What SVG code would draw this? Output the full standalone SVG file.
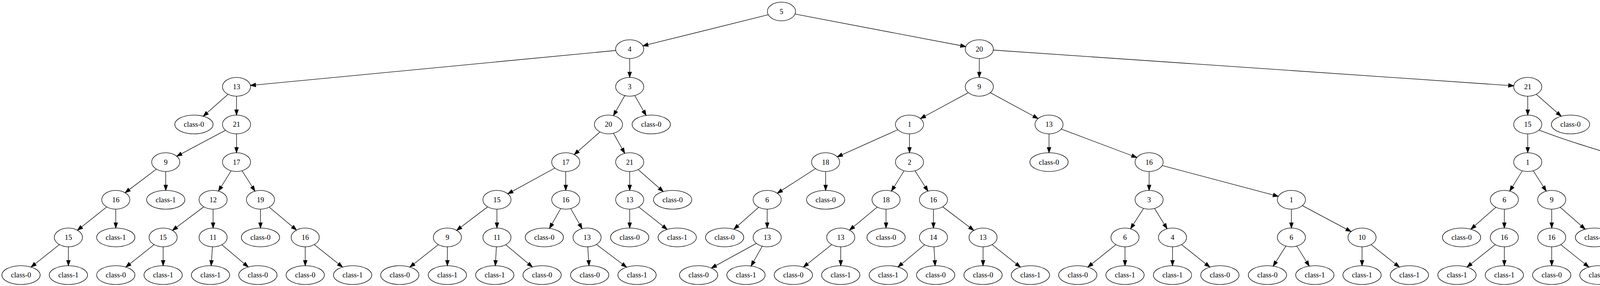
<svg xmlns="http://www.w3.org/2000/svg" width="4391" height="731" viewBox="0 0 4391 731">
<style>
.node ellipse{fill:none;stroke:#000;stroke-width:1.33}
.node text{font-family:"Liberation Serif","Times New Roman",serif;font-size:18.67px;text-anchor:middle;fill:#000}
#edges path{fill:none;stroke:#000;stroke-width:1.33;marker-end:url(#arr)}
</style>
<defs>
<marker id="arr" markerUnits="userSpaceOnUse" viewBox="0 0 14 10" markerWidth="14" markerHeight="10" refX="13.33" refY="5" orient="auto" overflow="visible">
<path d="M0,0.33 L13.33,5 L0,9.67 z" fill="#000" stroke="#000" stroke-width="1.33"/>
</marker>
</defs>
<rect width="4391" height="731" fill="#fff"/>
<g id="edges">
<path d="M1966.8,37.7 L1645.7,117.2"/>
<path d="M2035.1,35.9 L2472.4,119.0"/>
<path d="M1576.4,129.0 L641.1,218.4"/>
<path d="M1612,149.6 L1612,197.8"/>
<path d="M2507,149.6 L2507,197.8"/>
<path d="M2542.8,128.0 L3875.2,219.3"/>
<path d="M583.8,241.0 L520.3,297.1"/>
<path d="M605.5,245.8 L605.5,294.1"/>
<path d="M577.3,333.1 L452.5,399.3"/>
<path d="M605.5,342.1 L605.5,390.3"/>
<path d="M400.4,432.3 L320.3,492.6"/>
<path d="M424.3,438.3 L424.3,486.6"/>
<path d="M591.7,436.5 L559.3,488.4"/>
<path d="M619.6,436.4 L652.7,488.5"/>
<path d="M273.2,528.9 L198.3,588.4"/>
<path d="M296.4,534.6 L296.4,582.8"/>
<path d="M521.6,528.6 L441.5,588.8"/>
<path d="M545.5,534.6 L545.5,582.8"/>
<path d="M666.8,534.6 L666.8,582.8"/>
<path d="M689.2,529.4 L759.0,588.0"/>
<path d="M151.9,625.2 L79.5,682.7"/>
<path d="M175.1,630.8 L175.1,679.1"/>
<path d="M394.4,625.2 L322.1,682.7"/>
<path d="M417.6,630.8 L417.6,679.1"/>
<path d="M543.9,630.8 L540.5,679.1"/>
<path d="M567.9,625.6 L635.5,682.4"/>
<path d="M781.4,630.8 L781.4,679.1"/>
<path d="M804.6,625.2 L877.0,682.7"/>
<path d="M1599.3,244.3 L1570.4,295.6"/>
<path d="M1624.9,244.2 L1654.0,295.0"/>
<path d="M1536.0,337.2 L1470.0,395.2"/>
<path d="M1570.4,340.6 L1599.3,391.8"/>
<path d="M1420.5,429.5 L1300.0,495.4"/>
<path d="M1448.3,438.3 L1448.3,486.6"/>
<path d="M1612,438.3 L1612,486.6"/>
<path d="M1633.8,433.4 L1698.0,489.7"/>
<path d="M1248.4,528.6 L1169.1,588.8"/>
<path d="M1272.2,534.6 L1272.2,582.8"/>
<path d="M1435.5,533.0 L1406.7,583.7"/>
<path d="M1461.0,533.0 L1490.2,584.4"/>
<path d="M1612,534.6 L1612,582.8"/>
<path d="M1635.2,528.9 L1707.9,586.4"/>
<path d="M1122.1,625.2 L1049.3,682.7"/>
<path d="M1145.3,630.8 L1145.3,679.1"/>
<path d="M1270.8,630.8 L1268.0,679.1"/>
<path d="M1294.7,625.5 L1363.0,682.4"/>
<path d="M1504.6,630.8 L1507.9,679.1"/>
<path d="M1526.8,624.8 L1604.1,683.0"/>
<path d="M2479.0,236.9 L2356.3,303.0"/>
<path d="M2535.0,236.9 L2657.5,303.0"/>
<path d="M2298.4,331.5 L2143.5,400.9"/>
<path d="M2328.3,342.1 L2328.3,390.3"/>
<path d="M2685.5,342.1 L2685.5,390.3"/>
<path d="M2716.9,329.9 L2910.3,402.5"/>
<path d="M2087.7,431.0 L1989.9,493.9"/>
<path d="M2113.6,438.3 L2113.6,486.6"/>
<path d="M2314.5,436.5 L2282.1,488.4"/>
<path d="M2342.4,436.4 L2375.5,488.5"/>
<path d="M2941.7,438.3 L2941.7,486.6"/>
<path d="M2975.2,423.1 L3272.5,501.8"/>
<path d="M1942.3,529.8 L1878.8,585.8"/>
<path d="M1964,534.6 L1964,582.8"/>
<path d="M2245.8,529.3 L2174.9,588.1"/>
<path d="M2268.3,534.6 L2268.3,582.8"/>
<path d="M2389.6,534.6 L2389.6,582.8"/>
<path d="M2413.4,528.6 L2492.8,588.8"/>
<path d="M2927.6,532.6 L2894.2,584.7"/>
<path d="M2955.5,532.7 L2987.8,584.6"/>
<path d="M3306,534.6 L3306,582.8"/>
<path d="M3334.1,525.6 L3458.7,591.8"/>
<path d="M1936.2,622.1 L1821.1,685.2"/>
<path d="M1951.3,629.3 L1922.8,680.0"/>
<path d="M2129.1,625.2 L2056.7,682.7"/>
<path d="M2152.3,630.8 L2152.3,679.1"/>
<path d="M2367.1,625.5 L2298.8,682.4"/>
<path d="M2391.0,630.8 L2393.9,679.1"/>
<path d="M2516.6,630.8 L2516.6,679.1"/>
<path d="M2539.8,625.2 L2612.2,682.7"/>
<path d="M2856.8,625.2 L2784.8,682.7"/>
<path d="M2880,630.8 L2880,679.1"/>
<path d="M3001.6,630.8 L3001.6,679.1"/>
<path d="M3024.8,625.2 L3097.2,682.7"/>
<path d="M3291.9,628.9 L3259.3,680.2"/>
<path d="M3319.8,629.0 L3351.7,680.1"/>
<path d="M3486.8,630.8 L3486.8,679.1"/>
<path d="M3510.0,625.2 L3582.4,682.7"/>
<path d="M3911,245.8 L3911,294.1"/>
<path d="M3932.7,240.9 L3996.6,297.1"/>
<path d="M3911,342.1 L3911,390.3"/>
<path d="M3940,332.3 C3990,352 4090,385 4180,408.7"/>
<path d="M3897.2,436.5 L3864.9,488.4"/>
<path d="M3925.1,436.4 L3958.3,488.5"/>
<path d="M4215,438.3 L4215,486.6"/>
<path d="M4236.7,433.4 L4300.6,489.6"/>
<path d="M3829.4,529.7 L3765.5,585.8"/>
<path d="M3851.1,534.6 L3851.1,582.8"/>
<path d="M3972.4,534.6 L3972.4,582.8"/>
<path d="M3994.1,529.7 L4058.0,585.8"/>
<path d="M4215,534.6 L4215,582.8"/>
<path d="M4236.7,529.7 L4300.6,585.8"/>
<path d="M3827.9,625.2 L3755.5,682.7"/>
<path d="M3851.1,630.8 L3851.1,679.1"/>
<path d="M3972.4,630.8 L3972.4,679.1"/>
<path d="M3995.6,625.2 L4067.5,682.7"/>
<path d="M4215,630.8 L4215,679.1"/>
<path d="M4238.2,625.2 L4310.9,682.7"/>
</g>
<g id="n0" class="node"><ellipse cx="2000.5" cy="29.3" rx="36" ry="24"/><text x="2000.5" y="35.5">5</text></g>
<g id="n1" class="node"><ellipse cx="1612" cy="125.6" rx="36" ry="24"/><text x="1612" y="131.8">4</text></g>
<g id="n2" class="node"><ellipse cx="2507" cy="125.6" rx="36" ry="24"/><text x="2507" y="131.8">20</text></g>
<g id="n3" class="node"><ellipse cx="605.5" cy="221.8" rx="36" ry="24"/><text x="605.5" y="228">13</text></g>
<g id="n4" class="node"><ellipse cx="1612" cy="221.8" rx="36" ry="24"/><text x="1612" y="228">3</text></g>
<g id="n5" class="node"><ellipse cx="2507" cy="221.8" rx="36" ry="24"/><text x="2507" y="228">9</text></g>
<g id="n6" class="node"><ellipse cx="3911" cy="221.8" rx="36" ry="24"/><text x="3911" y="228">21</text></g>
<g id="n7" class="node"><ellipse cx="496.5" cy="318.1" rx="49" ry="24"/><text x="496.5" y="324.3">class-0</text></g>
<g id="n8" class="node"><ellipse cx="605.5" cy="318.1" rx="36" ry="24"/><text x="605.5" y="324.3">21</text></g>
<g id="n9" class="node"><ellipse cx="1557.7" cy="318.1" rx="36" ry="24"/><text x="1557.7" y="324.3">20</text></g>
<g id="n10" class="node"><ellipse cx="1667.2" cy="318.1" rx="49" ry="24"/><text x="1667.2" y="324.3">class-0</text></g>
<g id="n11" class="node"><ellipse cx="2328.3" cy="318.1" rx="36" ry="24"/><text x="2328.3" y="324.3">1</text></g>
<g id="n12" class="node"><ellipse cx="2685.5" cy="318.1" rx="36" ry="24"/><text x="2685.5" y="324.3">13</text></g>
<g id="n13" class="node"><ellipse cx="3911" cy="318.1" rx="36" ry="24"/><text x="3911" y="324.3">15</text></g>
<g id="n14" class="node"><ellipse cx="4020.5" cy="318.1" rx="49" ry="24"/><text x="4020.5" y="324.3">class-0</text></g>
<g id="n15" class="node"><ellipse cx="424.3" cy="414.3" rx="36" ry="24"/><text x="424.3" y="420.5">9</text></g>
<g id="n16" class="node"><ellipse cx="605.5" cy="414.3" rx="36" ry="24"/><text x="605.5" y="420.5">17</text></g>
<g id="n17" class="node"><ellipse cx="1448.3" cy="414.3" rx="36" ry="24"/><text x="1448.3" y="420.5">17</text></g>
<g id="n18" class="node"><ellipse cx="1612" cy="414.3" rx="36" ry="24"/><text x="1612" y="420.5">21</text></g>
<g id="n19" class="node"><ellipse cx="2113.6" cy="414.3" rx="36" ry="24"/><text x="2113.6" y="420.5">18</text></g>
<g id="n20" class="node"><ellipse cx="2328.3" cy="414.3" rx="36" ry="24"/><text x="2328.3" y="420.5">2</text></g>
<g id="n21" class="node"><ellipse cx="2685.5" cy="414.3" rx="49" ry="24"/><text x="2685.5" y="420.5">class-0</text></g>
<g id="n22" class="node"><ellipse cx="2941.7" cy="414.3" rx="36" ry="24"/><text x="2941.7" y="420.5">16</text></g>
<g id="n23" class="node"><ellipse cx="3911" cy="414.3" rx="36" ry="24"/><text x="3911" y="420.5">1</text></g>
<g id="n24" class="node"><ellipse cx="4215" cy="414.3" rx="36" ry="24"/><text x="4215" y="420.5">14</text></g>
<g id="n25" class="node"><ellipse cx="296.4" cy="510.6" rx="36" ry="24"/><text x="296.4" y="516.8">16</text></g>
<g id="n26" class="node"><ellipse cx="424.3" cy="510.6" rx="49" ry="24"/><text x="424.3" y="516.8">class-1</text></g>
<g id="n27" class="node"><ellipse cx="545.5" cy="510.6" rx="36" ry="24"/><text x="545.5" y="516.8">12</text></g>
<g id="n28" class="node"><ellipse cx="666.8" cy="510.6" rx="36" ry="24"/><text x="666.8" y="516.8">19</text></g>
<g id="n29" class="node"><ellipse cx="1272.2" cy="510.6" rx="36" ry="24"/><text x="1272.2" y="516.8">15</text></g>
<g id="n30" class="node"><ellipse cx="1448.3" cy="510.6" rx="36" ry="24"/><text x="1448.3" y="516.8">16</text></g>
<g id="n31" class="node"><ellipse cx="1612" cy="510.6" rx="36" ry="24"/><text x="1612" y="516.8">13</text></g>
<g id="n32" class="node"><ellipse cx="1721.9" cy="510.6" rx="49" ry="24"/><text x="1721.9" y="516.8">class-0</text></g>
<g id="n33" class="node"><ellipse cx="1964" cy="510.6" rx="36" ry="24"/><text x="1964" y="516.8">6</text></g>
<g id="n34" class="node"><ellipse cx="2113.6" cy="510.6" rx="49" ry="24"/><text x="2113.6" y="516.8">class-0</text></g>
<g id="n35" class="node"><ellipse cx="2268.3" cy="510.6" rx="36" ry="24"/><text x="2268.3" y="516.8">18</text></g>
<g id="n36" class="node"><ellipse cx="2389.6" cy="510.6" rx="36" ry="24"/><text x="2389.6" y="516.8">16</text></g>
<g id="n37" class="node"><ellipse cx="2941.7" cy="510.6" rx="36" ry="24"/><text x="2941.7" y="516.8">3</text></g>
<g id="n38" class="node"><ellipse cx="3306" cy="510.6" rx="36" ry="24"/><text x="3306" y="516.8">1</text></g>
<g id="n39" class="node"><ellipse cx="3851.1" cy="510.6" rx="36" ry="24"/><text x="3851.1" y="516.8">6</text></g>
<g id="n40" class="node"><ellipse cx="3972.4" cy="510.6" rx="36" ry="24"/><text x="3972.4" y="516.8">9</text></g>
<g id="n41" class="node"><ellipse cx="4215" cy="510.6" rx="36" ry="24"/><text x="4215" y="516.8">1</text></g>
<g id="n42" class="node"><ellipse cx="4324.4" cy="510.6" rx="49" ry="24"/><text x="4324.4" y="516.8">class-0</text></g>
<g id="n43" class="node"><ellipse cx="175.1" cy="606.8" rx="36" ry="24"/><text x="175.1" y="613">15</text></g>
<g id="n44" class="node"><ellipse cx="296.4" cy="606.8" rx="49" ry="24"/><text x="296.4" y="613">class-1</text></g>
<g id="n45" class="node"><ellipse cx="417.6" cy="606.8" rx="36" ry="24"/><text x="417.6" y="613">15</text></g>
<g id="n46" class="node"><ellipse cx="545.5" cy="606.8" rx="36" ry="24"/><text x="545.5" y="613">11</text></g>
<g id="n47" class="node"><ellipse cx="666.8" cy="606.8" rx="49" ry="24"/><text x="666.8" y="613">class-0</text></g>
<g id="n48" class="node"><ellipse cx="781.4" cy="606.8" rx="36" ry="24"/><text x="781.4" y="613">16</text></g>
<g id="n49" class="node"><ellipse cx="1145.3" cy="606.8" rx="36" ry="24"/><text x="1145.3" y="613">9</text></g>
<g id="n50" class="node"><ellipse cx="1272.2" cy="606.8" rx="36" ry="24"/><text x="1272.2" y="613">11</text></g>
<g id="n51" class="node"><ellipse cx="1393.5" cy="606.8" rx="49" ry="24"/><text x="1393.5" y="613">class-0</text></g>
<g id="n52" class="node"><ellipse cx="1502.9" cy="606.8" rx="36" ry="24"/><text x="1502.9" y="613">13</text></g>
<g id="n53" class="node"><ellipse cx="1612" cy="606.8" rx="49" ry="24"/><text x="1612" y="613">class-0</text></g>
<g id="n54" class="node"><ellipse cx="1733.7" cy="606.8" rx="49" ry="24"/><text x="1733.7" y="613">class-1</text></g>
<g id="n55" class="node"><ellipse cx="1855" cy="606.8" rx="49" ry="24"/><text x="1855" y="613">class-0</text></g>
<g id="n56" class="node"><ellipse cx="1964" cy="606.8" rx="36" ry="24"/><text x="1964" y="613">13</text></g>
<g id="n57" class="node"><ellipse cx="2152.3" cy="606.8" rx="36" ry="24"/><text x="2152.3" y="613">13</text></g>
<g id="n58" class="node"><ellipse cx="2268.3" cy="606.8" rx="49" ry="24"/><text x="2268.3" y="613">class-0</text></g>
<g id="n59" class="node"><ellipse cx="2389.6" cy="606.8" rx="36" ry="24"/><text x="2389.6" y="613">14</text></g>
<g id="n60" class="node"><ellipse cx="2516.6" cy="606.8" rx="36" ry="24"/><text x="2516.6" y="613">13</text></g>
<g id="n61" class="node"><ellipse cx="2880" cy="606.8" rx="36" ry="24"/><text x="2880" y="613">6</text></g>
<g id="n62" class="node"><ellipse cx="3001.6" cy="606.8" rx="36" ry="24"/><text x="3001.6" y="613">4</text></g>
<g id="n63" class="node"><ellipse cx="3306" cy="606.8" rx="36" ry="24"/><text x="3306" y="613">6</text></g>
<g id="n64" class="node"><ellipse cx="3486.8" cy="606.8" rx="36" ry="24"/><text x="3486.8" y="613">10</text></g>
<g id="n65" class="node"><ellipse cx="3741.6" cy="606.8" rx="49" ry="24"/><text x="3741.6" y="613">class-0</text></g>
<g id="n66" class="node"><ellipse cx="3851.1" cy="606.8" rx="36" ry="24"/><text x="3851.1" y="613">16</text></g>
<g id="n67" class="node"><ellipse cx="3972.4" cy="606.8" rx="36" ry="24"/><text x="3972.4" y="613">16</text></g>
<g id="n68" class="node"><ellipse cx="4081.9" cy="606.8" rx="49" ry="24"/><text x="4081.9" y="613">class-1</text></g>
<g id="n69" class="node"><ellipse cx="4215" cy="606.8" rx="36" ry="24"/><text x="4215" y="613">6</text></g>
<g id="n70" class="node"><ellipse cx="4324.4" cy="606.8" rx="49" ry="24"/><text x="4324.4" y="613">class-1</text></g>
<g id="l0" class="node"><ellipse cx="53.8" cy="703.1" rx="49" ry="24"/><text x="53.8" y="709.3">class-0</text></g>
<g id="l1" class="node"><ellipse cx="175.1" cy="703.1" rx="49" ry="24"/><text x="175.1" y="709.3">class-1</text></g>
<g id="l2" class="node"><ellipse cx="296.4" cy="703.1" rx="49" ry="24"/><text x="296.4" y="709.3">class-0</text></g>
<g id="l3" class="node"><ellipse cx="417.6" cy="703.1" rx="49" ry="24"/><text x="417.6" y="709.3">class-1</text></g>
<g id="l4" class="node"><ellipse cx="538.9" cy="703.1" rx="49" ry="24"/><text x="538.9" y="709.3">class-1</text></g>
<g id="l5" class="node"><ellipse cx="660.2" cy="703.1" rx="49" ry="24"/><text x="660.2" y="709.3">class-0</text></g>
<g id="l6" class="node"><ellipse cx="781.4" cy="703.1" rx="49" ry="24"/><text x="781.4" y="709.3">class-0</text></g>
<g id="l7" class="node"><ellipse cx="902.7" cy="703.1" rx="49" ry="24"/><text x="902.7" y="709.3">class-1</text></g>
<g id="l8" class="node"><ellipse cx="1023.5" cy="703.1" rx="49" ry="24"/><text x="1023.5" y="709.3">class-0</text></g>
<g id="l9" class="node"><ellipse cx="1145.3" cy="703.1" rx="49" ry="24"/><text x="1145.3" y="709.3">class-1</text></g>
<g id="l10" class="node"><ellipse cx="1266.6" cy="703.1" rx="49" ry="24"/><text x="1266.6" y="709.3">class-1</text></g>
<g id="l11" class="node"><ellipse cx="1387.8" cy="703.1" rx="49" ry="24"/><text x="1387.8" y="709.3">class-0</text></g>
<g id="l12" class="node"><ellipse cx="1509.6" cy="703.1" rx="49" ry="24"/><text x="1509.6" y="709.3">class-0</text></g>
<g id="l13" class="node"><ellipse cx="1630.8" cy="703.1" rx="49" ry="24"/><text x="1630.8" y="709.3">class-1</text></g>
<g id="l14" class="node"><ellipse cx="1788.5" cy="703.1" rx="49" ry="24"/><text x="1788.5" y="709.3">class-0</text></g>
<g id="l15" class="node"><ellipse cx="1909.7" cy="703.1" rx="49" ry="24"/><text x="1909.7" y="709.3">class-1</text></g>
<g id="l16" class="node"><ellipse cx="2031" cy="703.1" rx="49" ry="24"/><text x="2031" y="709.3">class-0</text></g>
<g id="l17" class="node"><ellipse cx="2152.3" cy="703.1" rx="49" ry="24"/><text x="2152.3" y="709.3">class-1</text></g>
<g id="l18" class="node"><ellipse cx="2274" cy="703.1" rx="49" ry="24"/><text x="2274" y="709.3">class-1</text></g>
<g id="l19" class="node"><ellipse cx="2395.3" cy="703.1" rx="49" ry="24"/><text x="2395.3" y="709.3">class-0</text></g>
<g id="l20" class="node"><ellipse cx="2516.6" cy="703.1" rx="49" ry="24"/><text x="2516.6" y="709.3">class-0</text></g>
<g id="l21" class="node"><ellipse cx="2637.9" cy="703.1" rx="49" ry="24"/><text x="2637.9" y="709.3">class-1</text></g>
<g id="l22" class="node"><ellipse cx="2759.1" cy="703.1" rx="49" ry="24"/><text x="2759.1" y="709.3">class-0</text></g>
<g id="l23" class="node"><ellipse cx="2880" cy="703.1" rx="49" ry="24"/><text x="2880" y="709.3">class-1</text></g>
<g id="l24" class="node"><ellipse cx="3001.6" cy="703.1" rx="49" ry="24"/><text x="3001.6" y="709.3">class-1</text></g>
<g id="l25" class="node"><ellipse cx="3122.9" cy="703.1" rx="49" ry="24"/><text x="3122.9" y="709.3">class-0</text></g>
<g id="l26" class="node"><ellipse cx="3244.7" cy="703.1" rx="49" ry="24"/><text x="3244.7" y="709.3">class-0</text></g>
<g id="l27" class="node"><ellipse cx="3366" cy="703.1" rx="49" ry="24"/><text x="3366" y="709.3">class-1</text></g>
<g id="l28" class="node"><ellipse cx="3486.8" cy="703.1" rx="49" ry="24"/><text x="3486.8" y="709.3">class-1</text></g>
<g id="l29" class="node"><ellipse cx="3608.1" cy="703.1" rx="49" ry="24"/><text x="3608.1" y="709.3">class-1</text></g>
<g id="l30" class="node"><ellipse cx="3729.8" cy="703.1" rx="49" ry="24"/><text x="3729.8" y="709.3">class-1</text></g>
<g id="l31" class="node"><ellipse cx="3851.1" cy="703.1" rx="49" ry="24"/><text x="3851.1" y="709.3">class-1</text></g>
<g id="l32" class="node"><ellipse cx="3972.4" cy="703.1" rx="49" ry="24"/><text x="3972.4" y="709.3">class-0</text></g>
<g id="l33" class="node"><ellipse cx="4093.2" cy="703.1" rx="49" ry="24"/><text x="4093.2" y="709.3">class-1</text></g>
<g id="l34" class="node"><ellipse cx="4215" cy="703.1" rx="49" ry="24"/><text x="4215" y="709.3">class-0</text></g>
<g id="l35" class="node"><ellipse cx="4336.7" cy="703.1" rx="49" ry="24"/><text x="4336.7" y="709.3">class-1</text></g>
</svg>
